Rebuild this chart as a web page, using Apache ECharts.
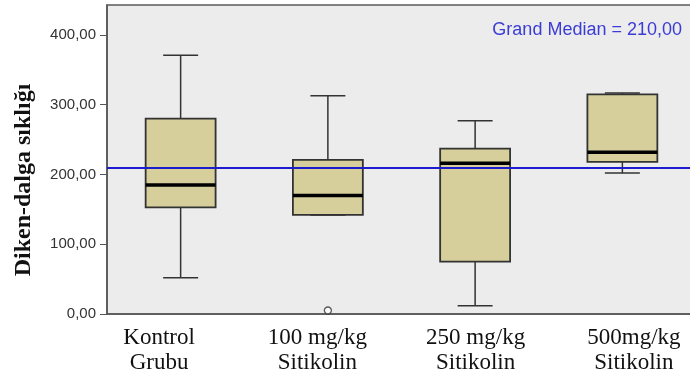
<!DOCTYPE html>
<html>
<head>
<meta charset="utf-8">
<script src="https://cdn.jsdelivr.net/npm/echarts@6/dist/echarts.min.js"></script>
<style>html,body{margin:0;padding:0;background:#fff}#c{width:690px;height:379px}</style>
</head>
<body>
<div id="c"></div>
<script>
// Data
var categories = ['Kontrol\nGrubu', '100 mg/kg\nSitikolin', '250 mg/kg\nSitikolin', '500mg/kg\nSitikolin'];
var whiskerLow = [52, 142, 12, 202];
var q1 = [153, 142, 75, 218];
var median = [185, 170, 216, 232];
var q3 = [280, 221, 237, 315];
var whiskerHigh = [371, 313, 277, 317];
var outliers = [[1, 5]];
var grandMedian = 210;
var yTicks = [0, 100, 200, 300, 400];
var yTitle = 'Diken-dalga sıklığı';

var boxData = categories.map(function (c, i) {
  return [i, whiskerLow[i], q1[i], median[i], q3[i], whiskerHigh[i]];
});

function fmt(v) { return v.toFixed(2).replace('.', ','); }

var chart = echarts.init(document.getElementById('c'));
chart.setOption({
  backgroundColor: '#fff',
  animation: false,
  title: {
    text: 'Grand Median = ' + fmt(grandMedian),
    right: 3, top: 16,
    textStyle: { color: '#3b3bd6', fontSize: 18, fontWeight: 'normal', fontFamily: 'Liberation Sans, Arial' }
  },
  graphic: [{
    type: 'text', x: 24, y: 180, rotation: Math.PI / 2,
    style: {
      text: yTitle, textAlign: 'center', textVerticalAlign: 'middle',
      font: 'bold 24px "Liberation Serif", "Times New Roman", serif', fill: '#111'
    }
  }],
  grid: [
    { left: 107, width: 589, top: 5, bottom: 65, outerBoundsMode: 'none', containLabel: false,
      show: true, backgroundColor: '#ececec', borderColor: '#5a5a5a', borderWidth: 1.5 },
    { left: 80, width: 633, top: 5, bottom: 65, outerBoundsMode: 'none', containLabel: false, show: false }
  ],
  xAxis: [
    {
      type: 'category', gridIndex: 0,
      data: categories,
      axisLine: { lineStyle: { color: '#555', width: 1.5 } },
      axisTick: { alignWithLabel: true, length: 6, lineStyle: { color: '#555' } },
      axisLabel: { show: false }
    },
    {
      type: 'category', gridIndex: 1,
      data: categories,
      axisLine: { show: false },
      axisTick: { show: false },
      axisLabel: { fontFamily: 'Liberation Serif, Times New Roman', fontSize: 23, lineHeight: 25, color: '#111', margin: 11 }
    }
  ],
  yAxis: [
    {
      type: 'value', gridIndex: 0, min: 0, max: 443, interval: 100,
      axisLine: { show: true, lineStyle: { color: '#555', width: 1.5 } },
      axisTick: { show: true, length: 7, lineStyle: { color: '#555' } },
      splitLine: { show: false },
      axisLabel: {
        showMaxLabel: false, fontFamily: 'Liberation Sans, Arial', fontSize: 15, color: '#333', margin: 11,
        formatter: function (v) { return yTicks.indexOf(v) >= 0 ? fmt(v) : ''; }
      }
    },
    { type: 'value', gridIndex: 1, min: 0, max: 443, show: false }
  ],
  series: [
    {
      type: 'custom',
      xAxisIndex: 0, yAxisIndex: 0,
      data: boxData,
      z: 3,
      renderItem: function (params, api) {
        var x = api.value(0);
        var band = api.size([1, 0])[0];
        var hw = band * 0.475 / 2;
        var cw = hw / 2;
        var pLo = api.coord([x, api.value(1)]);
        var pQ1 = api.coord([x, api.value(2)]);
        var pMed = api.coord([x, api.value(3)]);
        var pQ3 = api.coord([x, api.value(4)]);
        var pHi = api.coord([x, api.value(5)]);
        var cx = pMed[0];
        var stroke = { stroke: '#333', lineWidth: 1.5 };
        return {
          type: 'group',
          children: [
            { type: 'line', shape: { x1: cx, y1: pHi[1], x2: cx, y2: pQ3[1] }, style: stroke },
            { type: 'line', shape: { x1: cx - cw, y1: pHi[1], x2: cx + cw, y2: pHi[1] }, style: stroke },
            { type: 'line', shape: { x1: cx, y1: pLo[1], x2: cx, y2: pQ1[1] }, style: stroke },
            { type: 'line', shape: { x1: cx - cw, y1: pLo[1], x2: cx + cw, y2: pLo[1] }, style: stroke },
            { type: 'rect', shape: { x: cx - hw, y: pQ3[1], width: 2 * hw, height: pQ1[1] - pQ3[1] },
              style: { fill: '#d6cf9b', stroke: '#333', lineWidth: 1.8 } },
            { type: 'line', shape: { x1: cx - hw, y1: pMed[1], x2: cx + hw, y2: pMed[1] },
              style: { stroke: '#000', lineWidth: 3.5 } }
          ]
        };
      }
    },
    {
      type: 'scatter',
      xAxisIndex: 0, yAxisIndex: 0,
      data: outliers,
      symbol: 'circle', symbolSize: 7,
      itemStyle: { color: '#fff', borderColor: '#333', borderWidth: 1.3 },
      z: 4,
      markLine: {
        silent: true, symbol: 'none', label: { show: false },
        lineStyle: { color: '#1c1ccf', width: 2, type: 'solid' },
        data: [{ yAxis: grandMedian }]
      }
    }
  ]
});
</script>
</body>
</html>
